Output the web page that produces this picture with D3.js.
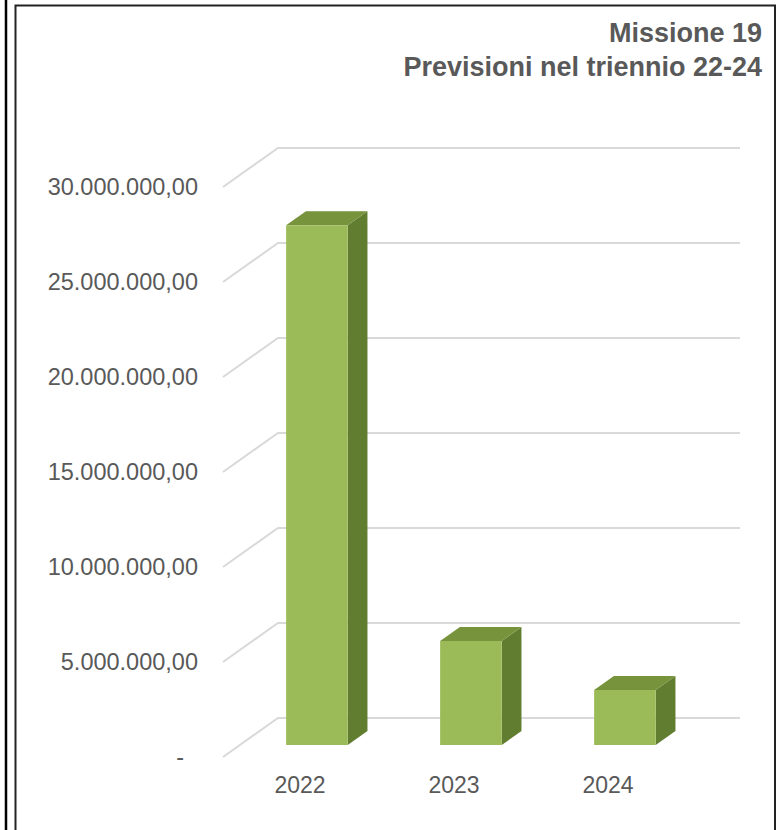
<!DOCTYPE html>
<html>
<head>
<meta charset="utf-8">
<script src="https://cdn.jsdelivr.net/npm/d3@7"></script>
<style>
  html, body { margin: 0; padding: 0; background: #fff; }
  svg { display: block; font-family: "Liberation Sans", Arial, sans-serif; }
</style>
</head>
<body>
<svg id="chart" width="780" height="830"></svg>
<script>
// Budget forecast for Mission 19, three-year horizon
const categories = ["2022", "2023", "2024"];
const values = [27350000, 5470000, 2900000];
const yTicks = [0, 5000000, 10000000, 15000000, 20000000, 25000000, 30000000];
const titleLines = ["Missione 19", "Previsioni nel triennio 22-24"];

const svg = d3.select("#chart");

// Outer frames
svg.append("line").attr("x1", 6).attr("x2", 6).attr("y1", 0).attr("y2", 830)
  .attr("stroke", "#000").attr("stroke-width", 2.5);
svg.append("path")
  .attr("d", "M15.5,840 L15.5,5.5 L775,5.5 L775,840")
  .attr("fill", "none").attr("stroke", "#222").attr("stroke-width", 2);

// Back wall plane and oblique depth offset
const x = d3.scaleBand().domain(categories).range([278, 740])
  .paddingInner(0.6).paddingOuter(0.3);
const y = d3.scaleLinear().domain([0, 30000000]).range([718, 148]);
const DX = -55, DY = 39;            // full floor depth offset
const zFront = 27 / 39, zBack = 13 / 39;

const P = (px, v, z) => [px + z * DX, y(v) + z * DY];

const locale = d3.formatLocale({ decimal: ",", thousands: ".", grouping: [3], currency: ["€", ""] });
const fmt = locale.format(",.2f");
const tickText = v => v === 0 ? "-" : fmt(v);

// Gridlines: diagonal on the side wall, horizontal on the back wall
const grid = svg.append("g").attr("fill", "none").attr("stroke", "#d9d9d9").attr("stroke-width", 2);
yTicks.forEach(t => {
  const a = P(x.range()[0], t, 1), b = P(x.range()[0], t, 0), c = P(x.range()[1], t, 0);
  grid.append("path").attr("d", `M${a}L${b}L${c}`);
});

// Value axis labels at the front edge of the side wall
svg.append("g").selectAll("text").data(yTicks).join("text")
  .attr("x", d => d === 0 ? 184 : 198)
  .attr("y", d => y(d) + DY)
  .attr("dy", "0.35em")
  .attr("text-anchor", "end")
  .attr("font-size", 23.5)
  .attr("fill", "#595959")
  .text(tickText);

// 3D bars
const bars = svg.append("g").selectAll("g").data(categories.map((c, i) => ({ c, v: values[i] }))).join("g");
const poly = pts => "M" + pts.map(p => p.join(",")).join("L") + "Z";
bars.append("path") // side face
  .attr("fill", "#617d2f")
  .attr("d", d => {
    const x1 = x(d.c) + x.bandwidth();
    return poly([P(x1, 0, zFront), P(x1, d.v, zFront), P(x1, d.v, zBack), P(x1, 0, zBack)]);
  });
bars.append("path") // top face
  .attr("fill", "#77933c")
  .attr("d", d => {
    const x0 = x(d.c), x1 = x0 + x.bandwidth();
    return poly([P(x0, d.v, zFront), P(x1, d.v, zFront), P(x1, d.v, zBack), P(x0, d.v, zBack)]);
  });
bars.append("path") // front face
  .attr("fill", "#9bbb59")
  .attr("d", d => {
    const x0 = x(d.c), x1 = x0 + x.bandwidth();
    return poly([P(x0, 0, zFront), P(x1, 0, zFront), P(x1, d.v, zFront), P(x0, d.v, zFront)]);
  });

// Category labels on the front edge of the floor
const zMid = (zFront + zBack) / 2;
svg.append("g").selectAll("text").data(categories).join("text")
  .attr("x", d => x(d) + x.bandwidth() / 2 + DX)
  .attr("y", 793)
  .attr("text-anchor", "middle")
  .attr("font-size", 23)
  .attr("fill", "#595959")
  .text(d => d);

// Title
svg.append("g").selectAll("text").data(titleLines).join("text")
  .attr("x", 762)
  .attr("y", (d, i) => 42 + i * 34)
  .attr("text-anchor", "end")
  .attr("font-size", 27)
  .attr("font-weight", "bold")
  .attr("fill", "#595959")
  .text(d => d);
</script>
</body>
</html>
